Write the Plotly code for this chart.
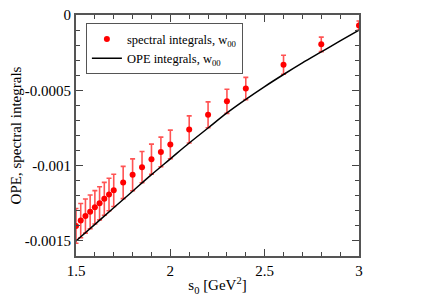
import plotly.graph_objects as go

s0_data = [1.5, 1.525, 1.55, 1.575, 1.6, 1.625, 1.65, 1.675, 1.7, 1.75, 1.8, 1.85,
           1.9, 1.95, 2.0, 2.1, 2.2, 2.3, 2.4, 2.6, 2.8, 3.0]
spectral = [-0.00140, -0.001365, -0.001335, -0.001307, -0.001277, -0.00125, -0.00122,
            -0.001192, -0.001164, -0.001112, -0.001061, -0.00101, -0.000957, -0.000909,
            -0.000859, -0.00076, -0.000663, -0.000573, -0.000488, -0.00033, -0.000195,
            -0.00007]
spectral_err = [0.000115, 0.000114, 0.000113, 0.000112, 0.000111, 0.00011, 0.000109,
                0.000108, 0.000107, 0.000107, 0.000106, 0.000104, 0.0001, 0.000098,
                0.000095, 0.00009, 0.000086, 0.00008, 0.000074, 0.000063, 0.000048,
                0.00003]

s0_ope = [1.5, 1.6, 1.7, 1.8, 1.9, 2.0, 2.1, 2.2, 2.3, 2.4, 2.5, 2.6, 2.7, 2.8, 2.9, 3.0]
ope = [-0.0015, -0.00139, -0.00128, -0.00117, -0.00106, -0.000955, -0.00085, -0.00075,
       -0.00065, -0.00056, -0.000475, -0.000395, -0.000318, -0.000245, -0.000172, -0.0001]

x_ticks = [1.5, 2, 2.5, 3]
x_ticktext = ["1.5", "2", "2.5", "3"]
y_ticks = [0, -0.0005, -0.001, -0.0015]
y_ticktext = ["0", "-0.0005", "-0.001", "-0.0015"]

font_family = "Liberation Serif"

fig = go.Figure()
fig.add_trace(go.Scatter(
    x=s0_data, y=spectral, mode="markers",
    name="spectral integrals, w<sub>00</sub>",
    marker=dict(color="red", size=6, symbol="circle"),
    error_y=dict(type="data", array=spectral_err, visible=True,
                 color="rgba(255,40,40,0.8)", thickness=1.6, width=2.5),
))
fig.add_trace(go.Scatter(
    x=s0_ope, y=ope, mode="lines",
    name="OPE integrals, w<sub>00</sub>",
    line=dict(color="black", width=1.5, shape="spline"),
))

axis_common = dict(
    showgrid=False, zeroline=False, showline=True, linecolor="#555", linewidth=1.8,
    mirror="allticks", ticks="inside", ticklen=7, tickwidth=1, tickcolor="#444",
    tickfont=dict(family=font_family, size=15, color="black"), automargin=False,
    ticklabeloverflow="allow",
)

# the page body adds an 8px margin, so the figure is shrunk by 8px and shifted
fig.update_layout(
    width=423, height=296,
    margin=dict(l=68, r=72, t=7, b=48),
    paper_bgcolor="white", plot_bgcolor="white",
    font=dict(family=font_family, size=15, color="black"),
    xaxis=dict(range=[1.5, 3], tickvals=x_ticks, ticktext=x_ticktext,
               minor=dict(ticks="inside", dtick=0.1, ticklen=4, tickcolor="#444"),
               title=dict(text="s<sub>0</sub> [GeV<sup>2</sup>]", standoff=2,
                          font=dict(family=font_family, size=15)),
               **axis_common),
    yaxis=dict(range=[-0.0016, 0], tickvals=y_ticks, ticktext=y_ticktext,
               minor=dict(ticks="inside", dtick=0.0001, ticklen=4, tickcolor="#444"),
               title=dict(text="OPE, spectral integrals", standoff=2,
                          font=dict(family=font_family, size=15)),
               **axis_common),
    showlegend=True,
    legend=dict(x=0.035, y=0.965, xanchor="left", yanchor="top",
                bordercolor="#555", borderwidth=1, bgcolor="white",
                font=dict(family=font_family, size=12.5),
                tracegroupgap=0, itemwidth=30),
)

fig.write_html("out.html")
